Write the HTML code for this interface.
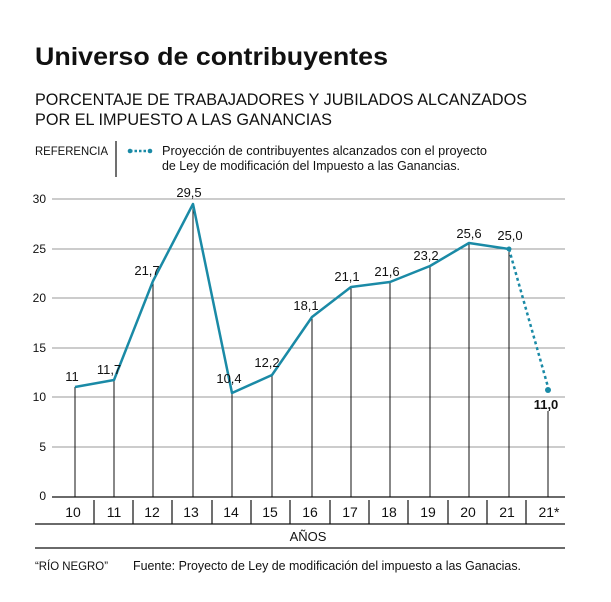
<!DOCTYPE html>
<html><head><meta charset="utf-8"><style>
body{margin:0;background:#fff;}
svg text{font-family:"Liberation Sans",sans-serif;}
</style></head><body>
<svg width="611" height="597" xmlns="http://www.w3.org/2000/svg">
<text x="35" y="65" font-size="25" font-weight="bold" fill="#111" textLength="353" lengthAdjust="spacingAndGlyphs">Universo de contribuyentes</text>
<text x="35" y="105" font-size="16.5" fill="#111" textLength="492" lengthAdjust="spacingAndGlyphs">PORCENTAJE DE TRABAJADORES Y JUBILADOS ALCANZADOS</text>
<text x="35" y="125" font-size="16.5" fill="#111" textLength="297" lengthAdjust="spacingAndGlyphs">POR EL IMPUESTO A LAS GANANCIAS</text>
<text x="35" y="155" font-size="12" fill="#111" textLength="73" lengthAdjust="spacingAndGlyphs">REFERENCIA</text>
<line x1="116" y1="141" x2="116" y2="177" stroke="#111" stroke-width="1.2"/>
<line x1="130" y1="151" x2="150" y2="151" stroke="#1a8aa6" stroke-width="2.5" stroke-dasharray="2.5 2"/>
<circle cx="130" cy="151" r="2.3" fill="#1a8aa6"/><circle cx="150" cy="151" r="2.3" fill="#1a8aa6"/>
<text x="162" y="155" font-size="12.5" fill="#111" textLength="325" lengthAdjust="spacingAndGlyphs">Proyección de contribuyentes alcanzados con el proyecto</text>
<text x="162" y="170" font-size="12.5" fill="#111" textLength="298" lengthAdjust="spacingAndGlyphs">de Ley de modificación del Impuesto a las Ganancias.</text>
<g stroke="#999" stroke-width="1">
<line x1="52" y1="199" x2="565" y2="199"/><line x1="52" y1="249" x2="565" y2="249"/>
<line x1="52" y1="298" x2="565" y2="298"/><line x1="52" y1="348" x2="565" y2="348"/>
<line x1="52" y1="397" x2="565" y2="397"/><line x1="52" y1="447" x2="565" y2="447"/>
</g>
<line x1="52" y1="497" x2="565" y2="497" stroke="#111" stroke-width="1.2"/>
<g font-size="12" fill="#111" text-anchor="end">
<text x="46" y="203">30</text><text x="46" y="253">25</text><text x="46" y="302">20</text>
<text x="46" y="352">15</text><text x="46" y="401">10</text><text x="46" y="451">5</text><text x="46" y="500">0</text>
</g>
<g stroke="#111" stroke-width="1">
<line x1="75" y1="387" x2="75" y2="497"/><line x1="114" y1="380" x2="114" y2="497"/>
<line x1="153" y1="281" x2="153" y2="497"/><line x1="193" y1="204" x2="193" y2="497"/>
<line x1="232" y1="393" x2="232" y2="497"/><line x1="272" y1="375" x2="272" y2="497"/>
<line x1="312" y1="317" x2="312" y2="497"/><line x1="351" y1="287" x2="351" y2="497"/>
<line x1="390" y1="282" x2="390" y2="497"/><line x1="430" y1="266" x2="430" y2="497"/>
<line x1="469" y1="243" x2="469" y2="497"/><line x1="509" y1="249" x2="509" y2="497"/>
<line x1="548" y1="411" x2="548" y2="497"/>
</g>
<polyline fill="none" stroke="#1a8aa6" stroke-width="2.5" stroke-linejoin="round" points="75,387 114,380 153,281 193,204 232,393 272,375 312,317 351,287 390,282 430,266 469,243 509,249"/>
<line x1="509" y1="249" x2="548" y2="387" stroke="#1a8aa6" stroke-width="2.5" stroke-dasharray="3 3"/>
<circle cx="509" cy="249" r="2.5" fill="#1a8aa6"/><circle cx="548" cy="390" r="3" fill="#1a8aa6"/>
<g font-size="13" fill="#111" text-anchor="middle">
<text x="72" y="381">11</text><text x="109" y="374">11,7</text><text x="147" y="275">21,7</text>
<text x="189" y="197">29,5</text><text x="229" y="383">10,4</text><text x="267" y="367">12,2</text>
<text x="306" y="310">18,1</text><text x="347" y="281">21,1</text><text x="387" y="276">21,6</text>
<text x="426" y="260">23,2</text><text x="469" y="238">25,6</text><text x="510" y="240">25,0</text>
<text x="546" y="409" font-weight="bold">11,0</text>
</g>
<g stroke="#111" stroke-width="1.2">
<line x1="94" y1="500" x2="94" y2="524"/><line x1="133" y1="500" x2="133" y2="524"/>
<line x1="172" y1="500" x2="172" y2="524"/><line x1="212" y1="500" x2="212" y2="524"/>
<line x1="251" y1="500" x2="251" y2="524"/><line x1="290" y1="500" x2="290" y2="524"/>
<line x1="330" y1="500" x2="330" y2="524"/><line x1="369" y1="500" x2="369" y2="524"/>
<line x1="408" y1="500" x2="408" y2="524"/><line x1="448" y1="500" x2="448" y2="524"/>
<line x1="487" y1="500" x2="487" y2="524"/><line x1="526" y1="500" x2="526" y2="524"/>
<line x1="35" y1="524" x2="565" y2="524"/><line x1="35" y1="548" x2="565" y2="548"/>
</g>
<g font-size="14" fill="#111" text-anchor="middle">
<text x="73" y="517">10</text><text x="114" y="517">11</text><text x="152" y="517">12</text>
<text x="191" y="517">13</text><text x="231" y="517">14</text><text x="270" y="517">15</text>
<text x="310" y="517">16</text><text x="350" y="517">17</text><text x="389" y="517">18</text>
<text x="428" y="517">19</text><text x="468" y="517">20</text><text x="507" y="517">21</text>
<text x="549" y="517">21*</text>
<text x="308" y="541" font-size="13">AÑOS</text>
</g>
<text x="35" y="570" font-size="12" fill="#111" textLength="73" lengthAdjust="spacingAndGlyphs">“RÍO NEGRO”</text>
<text x="133" y="570" font-size="12.5" fill="#111" textLength="388" lengthAdjust="spacingAndGlyphs">Fuente: Proyecto de Ley de modificación del impuesto a las Ganacias.</text>
</svg>
</body></html>
